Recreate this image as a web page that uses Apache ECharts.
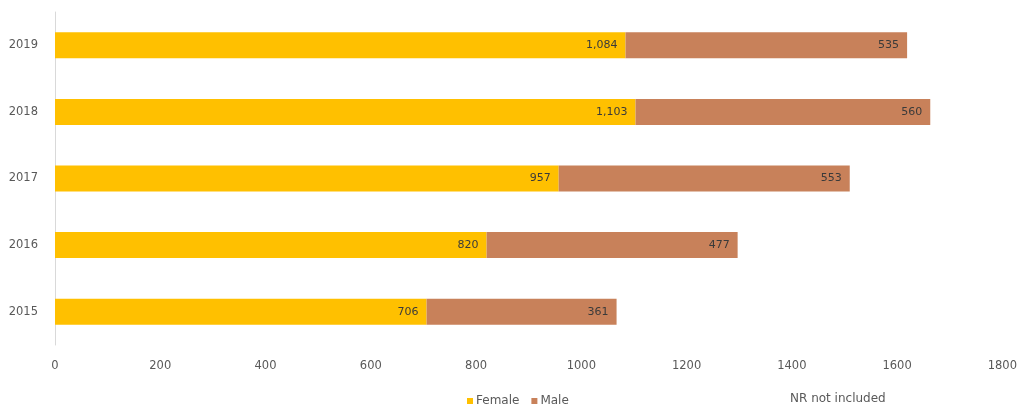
<!DOCTYPE html>
<html>
<head>
<meta charset="utf-8">
<script src="https://cdn.jsdelivr.net/npm/echarts@6/dist/echarts.min.js"></script>
<style>
  html, body { margin: 0; padding: 0; background: #fff; }
  #chart { width: 1020px; height: 410px; }
</style>
</head>
<body>
<div id="chart"></div>
<script>
// Applicants by year, split by sex (NR not included)
const years = ['2015', '2016', '2017', '2018', '2019'];
const female = [706, 820, 957, 1103, 1084];
const male = [361, 477, 553, 560, 535];
const xTicks = [0, 200, 400, 600, 800, 1000, 1200, 1400, 1600, 1800];

const chart = echarts.init(document.getElementById('chart'));
const fontFamily = '"DejaVu Sans", Verdana, sans-serif';

const barLabel = {
  show: true,
  position: 'insideRight',
  distance: 8,
  color: '#3a3a3a',
  fontSize: 11,
  fontFamily: fontFamily,
  formatter: p => p.value.toLocaleString('en-US')
};

chart.setOption({
  animation: false,
  textStyle: { fontFamily: fontFamily },
  grid: { left: 55, right: 17, top: 12, bottom: 65, containLabel: false },
  legend: {
    data: ['Female', 'Male'],
    left: 462,
    top: 390,
    itemWidth: 6,
    itemHeight: 6,
    itemGap: 12,
    icon: 'rect',
    textStyle: { color: '#595959', fontSize: 12, padding: [0, 0, 0, -2] }
  },
  graphic: [{
    type: 'text',
    left: 790,
    top: 393,
    style: { text: 'NR not included', fill: '#595959', fontSize: 12, fontFamily: fontFamily }
  }],
  xAxis: {
    type: 'value',
    min: xTicks[0],
    max: xTicks[xTicks.length - 1],
    interval: xTicks[1] - xTicks[0],
    axisLine: { show: false },
    axisTick: { show: false },
    splitLine: { show: false },
    axisLabel: { color: '#595959', fontSize: 11.5, margin: 15, formatter: v => String(v) }
  },
  yAxis: {
    type: 'category',
    data: years,
    axisLine: { show: true, lineStyle: { color: '#d9d9d9', width: 1 } },
    axisTick: { show: false },
    axisLabel: { color: '#595959', fontSize: 11.5, margin: 17 }
  },
  series: [
    {
      name: 'Female',
      type: 'bar',
      stack: 'total',
      barWidth: 26,
      data: female,
      itemStyle: { color: '#FFC000' },
      label: barLabel
    },
    {
      name: 'Male',
      type: 'bar',
      stack: 'total',
      barWidth: 26,
      data: male,
      itemStyle: { color: '#C8815A' },
      label: barLabel
    }
  ]
});
</script>
</body>
</html>
